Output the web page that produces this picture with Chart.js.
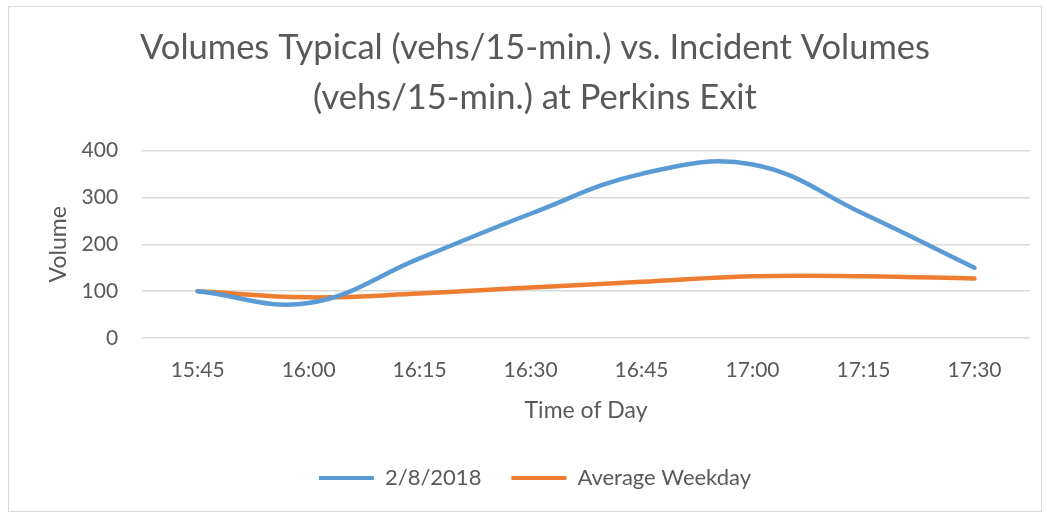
<!DOCTYPE html>
<html>
<head>
<meta charset="utf-8">
<script src="https://cdn.jsdelivr.net/npm/chart.js@4.4.1/dist/chart.umd.min.js"></script>
<style>
  html, body { margin: 0; padding: 0; background: #ffffff; }
  .frame { position: absolute; left: 8px; top: 6px; width: 1034px; height: 506px; border: 1px solid #d9d9d9; box-sizing: border-box; }
  #wrap { position: absolute; left: 0; top: 0; width: 1047px; height: 514px; }
</style>
</head>
<body>
<div class="frame"></div>
<div id="wrap"><canvas id="volumeChart"></canvas></div>
<script>
// chart data
const timeLabels = ['15:45', '16:00', '16:15', '16:30', '16:45', '17:00', '17:15', '17:30'];
const incidentVolumes = [100, 75, 170, 265, 350, 370, 265, 150];
const weekdayVolumes = [100, 87, 95, 108, 120, 132, 132, 127];
const yTicks = [0, 100, 200, 300, 400];

Chart.defaults.color = '#595959';
Chart.defaults.font.family = 'Lato';

const ctx = document.getElementById('volumeChart');
new Chart(ctx, {
    type: 'line',
    data: {
        labels: timeLabels,
        datasets: [{
            label: '2/8/2018',
            data: incidentVolumes,
            borderColor: '#5b9bd5',
            backgroundColor: '#5b9bd5',
            borderWidth: 4.5,
            pointRadius: 0,
            tension: 0.4,
            borderCapStyle: 'round'
        }, {
            label: 'Average Weekday',
            data: weekdayVolumes,
            borderColor: '#ed7d31',
            backgroundColor: '#ed7d31',
            borderWidth: 4.5,
            pointRadius: 0,
            tension: 0.4,
            borderCapStyle: 'round'
        }]
    },
    options: {
        responsive: true,
        maintainAspectRatio: false,
        animation: false,
        layout: { padding: { left: 40, right: 17, top: 23, bottom: 15 } },
        scales: {
            y: {
                min: 0,
                max: 400,
                afterBuildTicks: axis => { axis.ticks = yTicks.map(v => ({ value: v })); },
                border: { display: false },
                grid: { color: '#d9d9d9', lineWidth: 1.5, drawTicks: false },
                ticks: { padding: 24, font: { size: 21 } },
                title: { display: true, text: 'Volume', font: { size: 23 }, padding: { top: 5, bottom: -15 } }
            },
            x: {
                offset: true,
                border: { display: false },
                grid: { display: false, offset: true },
                ticks: { padding: 11, font: { size: 21 } },
                title: { display: true, text: 'Time of Day', font: { size: 23 }, padding: { top: 3, bottom: 13 } }
            }
        },
        plugins: {
            title: {
                display: true,
                text: ['Volumes Typical (vehs/15-min.) vs. Incident Volumes', '(vehs/15-min.) at Perkins Exit'],
                font: { size: 34.5, weight: 'normal', lineHeight: 1.44 },
                padding: { top: 0, bottom: 28 }
            },
            legend: {
                position: 'bottom',
                labels: {
                    boxWidth: 55,
                    boxHeight: 4,
                    padding: 30,
                    font: { size: 22 },
                    generateLabels: chart => Chart.defaults.plugins.legend.labels.generateLabels(chart)
                        .map(item => ({ ...item, lineWidth: 0 }))
                }
            },
            tooltip: { enabled: false }
        }
    }
});
</script>
</body>
</html>
